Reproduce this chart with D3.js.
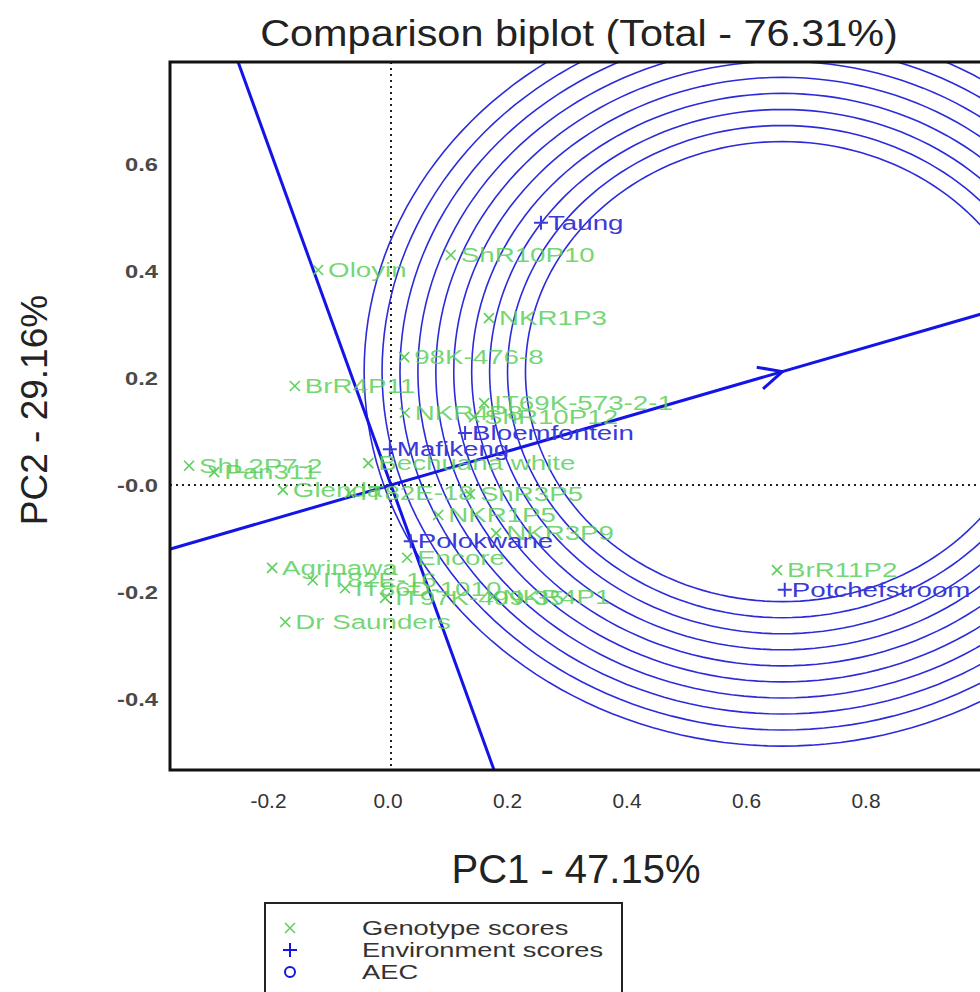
<!DOCTYPE html>
<html><head><meta charset="utf-8">
<script src="https://cdn.jsdelivr.net/npm/d3@7"></script>
<style>body{margin:0;background:#fff}svg{display:block}text{font-family:"Liberation Sans",Arial,sans-serif}</style>
</head><body>
<svg id="c" width="980" height="992"></svg>
<script>
// ---- data ----
const genoNames = ["Oloyin","ShR10P10","NKR1P3","98K-476-8","BrR4P11","IT69K-573-2-1","NKR4P8","ShR10P12","ShL2P7-2","Pan311","Bechuana white","Glenda","IT82E-18","ShR3P5","BrR11P2","Agrinawa","Dr Saunders","NKR1P5","NKR3P9","Encore","IT82E-16","IT86D-1010","IT97K-499-35","NKR4P1"];
const genoPC1 = [-0.122,0.100,0.164,0.022,-0.161,0.156,0.023,0.139,-0.338,-0.296,-0.038,-0.181,-0.069,0.132,0.646,-0.199,-0.177,0.079,0.176,0.027,-0.131,-0.077,-0.010,0.170];
const genoPC2 = [0.402,0.430,0.312,0.239,0.185,0.153,0.135,0.127,0.036,0.024,0.041,-0.009,-0.015,-0.017,-0.159,-0.155,-0.256,-0.056,-0.090,-0.136,-0.178,-0.193,-0.211,-0.209];
const envNames = ["Taung","Bloemfontein","Mafikeng","Polokwane","Potchefstroom"];
const envPC1 = [0.251,0.124,-0.002,0.033,0.659];
const envPC2 = [0.490,0.097,0.067,-0.105,-0.196];
const aecPoint = [0.655,0.212];
const circleRadii = [0.430,0.460,0.490,0.520,0.550,0.580,0.610,0.640,0.670,0.700];
const xTicks = [-0.2,0.0,0.2,0.4,0.6,0.8];
const yTicks = [0.6,0.4,0.2,0.0,-0.2,-0.4];
const yTickLabels = ["0.6","0.4","0.2","-0.0","-0.2","-0.4"];
const xDomain = [-0.3699,1.0025];
const yDomain = [-0.5327,0.7907];

// ---- layout ----
const L=170,T=62,R=990,B=770;
const svg=d3.select("#c");
const x=d3.scaleLinear().domain(xDomain).range([L,R]);
const y=d3.scaleLinear().domain(yDomain).range([B,T]);
const green="#5ccf5c", blue="#1414e6", envBlue="#3a3ad8";
const SX=1.32, FS=21;

svg.append("defs").append("clipPath").attr("id","clip").append("rect")
  .attr("x",L).attr("y",T).attr("width",R-L).attr("height",B-T);
const g=svg.append("g").attr("clip-path","url(#clip)");

// dotted axes
g.append("line").attr("x1",x(0)).attr("x2",x(0)).attr("y1",T).attr("y2",B)
  .attr("stroke","#222").attr("stroke-width",2).attr("stroke-dasharray","2,4");
g.append("line").attr("x1",L).attr("x2",R).attr("y1",y(0)).attr("y2",y(0))
  .attr("stroke","#222").attr("stroke-width",2).attr("stroke-dasharray","2,4");

// circles (circles in data space)
const ang=d3.range(0,361,2).map(a=>a*Math.PI/180);
const line=d3.line().x(d=>x(d[0])).y(d=>y(d[1]));
circleRadii.forEach(r=>{
  g.append("path").attr("d",line(ang.map(a=>[aecPoint[0]+r*Math.cos(a),aecPoint[1]+r*Math.sin(a)])))
   .attr("fill","none").attr("stroke","#2b2bdc").attr("stroke-width",1.6);
});

// AEC abscissa and ordinate
const dx=aecPoint[0], dy=aecPoint[1];
const k=3;
g.append("line").attr("x1",x(-k*dx)).attr("y1",y(-k*dy)).attr("x2",x(k*dx)).attr("y2",y(k*dy))
  .attr("stroke",blue).attr("stroke-width",3);
g.append("line").attr("x1",x(-k*dy)).attr("y1",y(k*dx)).attr("x2",x(k*dy)).attr("y2",y(-k*dx))
  .attr("stroke",blue).attr("stroke-width",3);
// arrow head
{
  const tx=x(dx), ty=y(dy);
  const ox=x(0), oy=y(0);
  const a=Math.atan2(ty-oy,tx-ox);
  const len=26, wid=0.45;
  const p1=[tx-len*Math.cos(a-wid), ty-len*Math.sin(a-wid)];
  const p2=[tx-len*Math.cos(a+wid), ty-len*Math.sin(a+wid)];
  g.append("path").attr("d",`M${p1[0]},${p1[1]}L${tx},${ty}L${p2[0]},${p2[1]}`)
   .attr("fill","none").attr("stroke",blue).attr("stroke-width",3);
}

// genotypes
genoNames.forEach((n,i)=>{
  const px=x(genoPC1[i]), py=y(genoPC2[i]);
  g.append("path").attr("d",`M${px-5},${py-5}L${px+5},${py+5}M${px-5},${py+5}L${px+5},${py-5}`)
   .attr("stroke",green).attr("stroke-width",1.6);
  g.append("text").attr("transform",`translate(${px+10},${py})scale(${SX},1)`)
   .attr("dominant-baseline","central").attr("font-size",FS).attr("fill",green).attr("fill-opacity",0.85).text(n);
});
// environments
envNames.forEach((n,i)=>{
  const px=x(envPC1[i]), py=y(envPC2[i]);
  g.append("path").attr("d",`M${px-7},${py}L${px+7},${py}M${px},${py-7}L${px},${py+7}`)
   .attr("stroke",envBlue).attr("stroke-width",2);
  g.append("text").attr("transform",`translate(${px+7},${py})scale(${SX},1)`)
   .attr("dominant-baseline","central").attr("font-size",FS).attr("fill",envBlue).text(n);
});

// frame
svg.append("rect").attr("x",L).attr("y",T).attr("width",R-L).attr("height",B-T)
  .attr("fill","none").attr("stroke","#111").attr("stroke-width",3);

// tick labels
svg.selectAll(".xt").data(xTicks).enter().append("text")
  .attr("transform",d=>`translate(${x(d)-3},808)scale(1.1,1.1)`).attr("text-anchor","middle")
  .attr("font-size",19).attr("fill","#333").text(d=>d.toFixed(1));
svg.selectAll(".yt").data(yTicks).enter().append("text")
  .attr("transform",(d,i)=>`translate(158,${y(d)+7})scale(1.25,1)`).attr("text-anchor","end")
  .attr("font-size",19).attr("font-weight","bold").attr("fill","#4a4a4a").text((d,i)=>yTickLabels[i]);

// titles
svg.append("text").attr("transform","translate(579,46)scale(1.12,1)").attr("text-anchor","middle")
  .attr("font-size",37).attr("fill","#222").text("Comparison biplot (Total - 76.31%)");
svg.append("text").attr("transform","translate(576,883)").attr("text-anchor","middle")
  .attr("font-size",40).attr("fill","#222").text("PC1 - 47.15%");
svg.append("text").attr("transform","translate(47,410)rotate(-90)").attr("text-anchor","middle")
  .attr("font-size",37).attr("fill","#222").text("PC2 - 29.16%");

// legend
const lg=svg.append("g");
lg.append("rect").attr("x",265).attr("y",903).attr("width",357).attr("height",100)
  .attr("fill","none").attr("stroke","#222").attr("stroke-width",2);
const legItems=["Genotype scores","Environment scores","AEC"];
legItems.forEach((t,i)=>{
  lg.append("text").attr("transform",`translate(362,${928+i*22})scale(1.3,1)`).attr("dominant-baseline","central")
    .attr("font-size",21).attr("fill","#333").text(t);
});
lg.append("path").attr("d","M285,923L295,933M285,933L295,923").attr("stroke",green).attr("stroke-width",1.5);
lg.append("path").attr("d","M283,950L297,950M290,943L290,957").attr("stroke",blue).attr("stroke-width",2);
lg.append("circle").attr("cx",290).attr("cy",972).attr("r",5).attr("fill","none").attr("stroke",blue).attr("stroke-width",2);
</script>
</body></html>
